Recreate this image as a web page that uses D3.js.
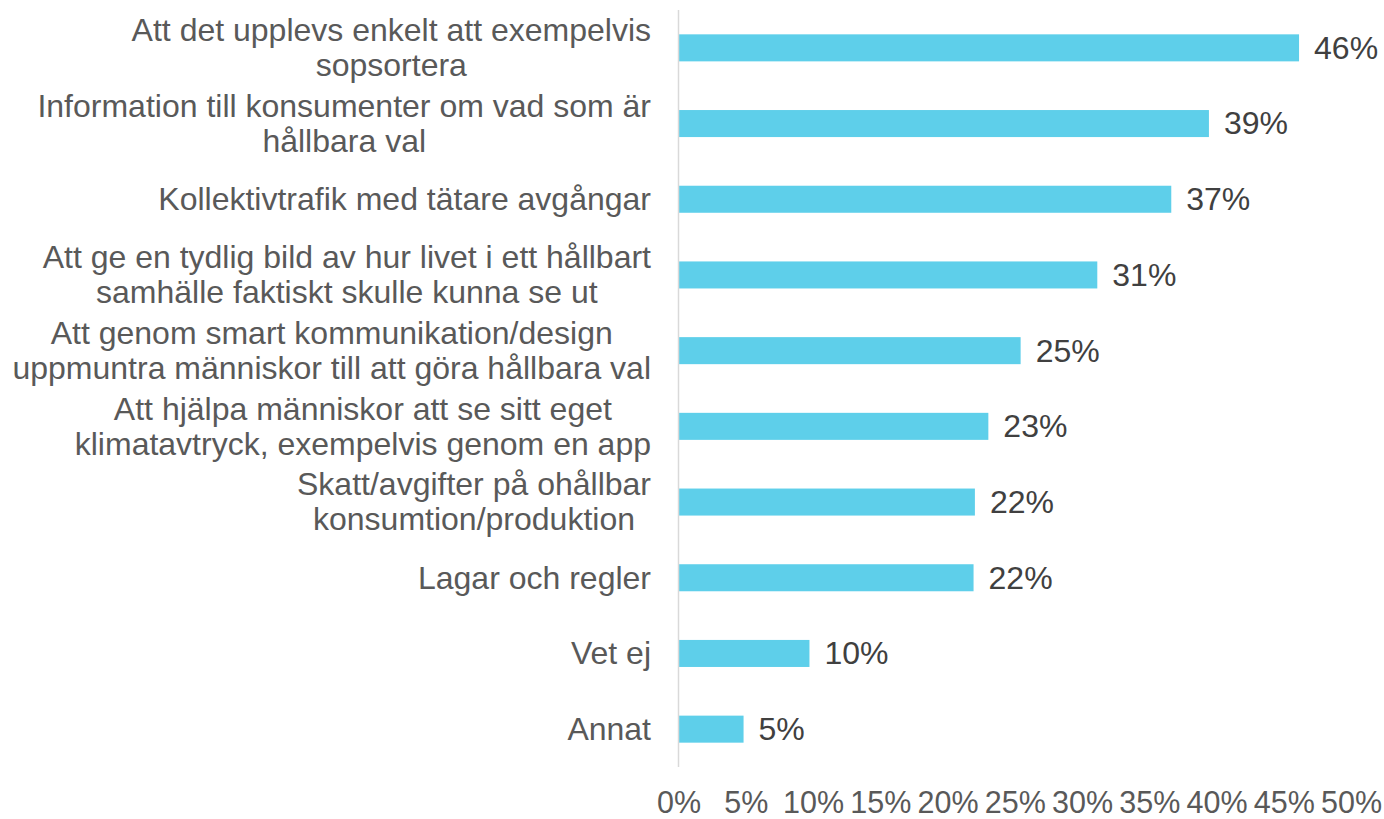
<!DOCTYPE html>
<html lang="sv">

<head>
    <meta charset="UTF-8">
    <script src="https://cdnjs.cloudflare.com/ajax/libs/d3/7.8.5/d3.min.js"></script>
    <title>Hållbara val</title>
    <style>
        body {
            margin: 0;
            background: #fff;
        }

        svg text {
            font-family: "Liberation Sans", Arial, sans-serif;
        }

        .bar {
            fill: #5ecfea;
        }

        .cat-label {
            font-size: 32px;
            fill: #595959;
        }

        .value-label {
            font-size: 32px;
            fill: #404040;
        }

        .tick-label {
            font-size: 30.5px;
            fill: #595959;
        }
    </style>
</head>

<body>
    <div class="chart"></div>
    <script>
        // kategorier (radbrytning med \n som i originalet)
        var categories = [
            "Att det upplevs enkelt att exempelvis\nsopsortera",
            "Information till konsumenter om vad som är\nhållbara val",
            "Kollektivtrafik med tätare avgångar",
            "Att ge en tydlig bild av hur livet i ett hållbart\nsamhälle faktiskt skulle kunna se ut",
            "Att genom smart kommunikation/design\nuppmuntra människor till att göra hållbara val",
            "Att hjälpa människor att se sitt eget\nklimatavtryck, exempelvis genom en app",
            "Skatt/avgifter på ohållbar\nkonsumtion/produktion",
            "Lagar och regler",
            "Vet ej",
            "Annat"
        ];

        // andel i procent
        var values = [46.1, 39.4, 36.6, 31.1, 25.4, 23.0, 22.0, 21.9, 9.7, 4.8];

        var xTicks = [0, 5, 10, 15, 20, 25, 30, 35, 40, 45, 50];

        var width = 1384,
            height = 819;

        var svg = d3.select(".chart").append("svg")
            .attr("width", width)
            .attr("height", height);

        var x = d3.scaleLinear()
            .domain([0, 50])
            .range([679, 1351.5]);

        var y = d3.scaleBand()
            .domain(d3.range(categories.length))
            .range([10, 767])
            .paddingInner(0.643)
            .paddingOuter(0.3215);

        // staplar
        svg.selectAll(".bar")
            .data(values)
            .enter()
            .append("rect")
            .attr("class", "bar")
            .attr("x", x(0))
            .attr("y", function(d, i) {
                return y(i);
            })
            .attr("width", function(d) {
                return x(d) - x(0);
            })
            .attr("height", y.bandwidth());

        // vertikal axellinje
        svg.append("line")
            .attr("x1", x(0) - 0.5)
            .attr("x2", x(0) - 0.5)
            .attr("y1", 10)
            .attr("y2", 767)
            .attr("stroke", "#d9d9d9")
            .attr("stroke-width", 1.5);

        // värdeetiketter
        svg.selectAll(".value-label")
            .data(values)
            .enter()
            .append("text")
            .attr("class", "value-label")
            .attr("x", function(d) {
                return x(d) + 15;
            })
            .attr("y", function(d, i) {
                return y(i) + y.bandwidth() / 2;
            })
            .attr("dy", "0.34em")
            .text(function(d) {
                return Math.round(d) + "%";
            });

        // x-axelns etiketter
        svg.selectAll(".tick-label")
            .data(xTicks)
            .enter()
            .append("text")
            .attr("class", "tick-label")
            .attr("x", function(d) {
                return x(d);
            })
            .attr("y", 812.5)
            .attr("text-anchor", "middle")
            .text(function(d) {
                return d + "%";
            });

        // kategorietiketter, centrerade rader, blocket högerjusterat
        var labelRight = 651;
        var lineHeight = 35;

        categories.forEach(function(label, i) {
            var lines = label.split("\n");
            var cy = y(i) + y.bandwidth() / 2;
            var g = svg.append("g");
            var texts = g.selectAll("text")
                .data(lines)
                .enter()
                .append("text")
                .attr("class", "cat-label")
                .attr("y", function(d, j) {
                    return cy + (j - (lines.length - 1) / 2) * lineHeight;
                })
                .attr("dy", "0.34em")
                .attr("text-anchor", "middle")
                .text(function(d) {
                    return d;
                });
            var maxW = 0;
            texts.each(function() {
                maxW = Math.max(maxW, this.getComputedTextLength());
            });
            texts.attr("x", labelRight - maxW / 2);
        });
    </script>
</body>

</html>
